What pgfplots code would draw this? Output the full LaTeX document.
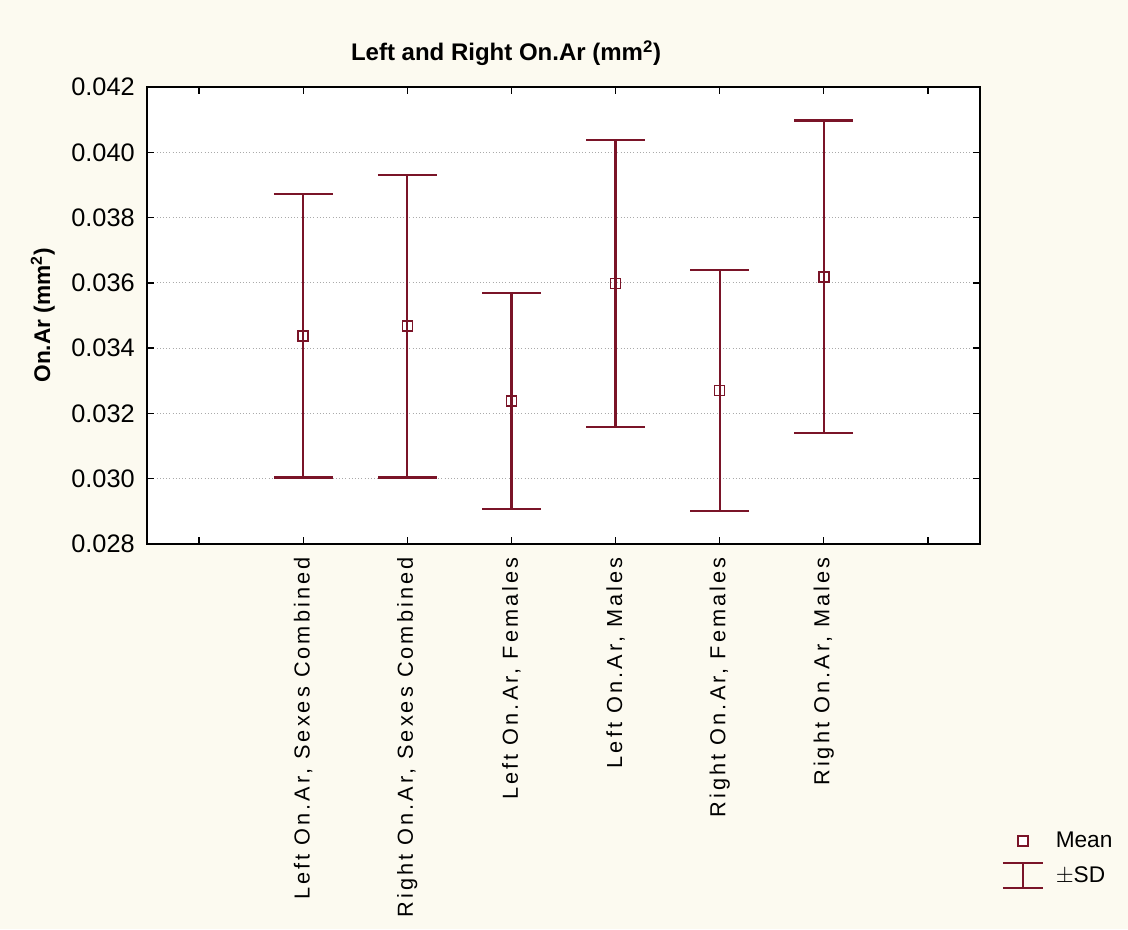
\documentclass[border=0pt]{standalone}
\usepackage{pgfplots}
\pgfplotsset{compat=1.18}
\usepackage{pgfplotstable}
\usepackage{fontspec}
\setmainfont{Liberation Sans}
\newfontfamily\lsp[LetterSpace=14]{Liberation Sans}
\definecolor{bg}{RGB}{252,250,240}
\definecolor{err}{RGB}{122,20,40}
\definecolor{grd}{RGB}{170,170,170}

\pgfplotstableread{
x y e
1 0.03438 0.00434
2 0.03467 0.00463
3 0.03238 0.00331
4 0.03598 0.00440
5 0.03270 0.00369
6 0.03618 0.00479
}\data

\begin{document}
\begin{tikzpicture}
\fill[bg] (-110.25pt,-288.75pt) rectangle (735.75pt,408pt);
\begin{axis}[
 at={(0pt,0pt)}, anchor=south west,
 scale only axis, width=624.75pt, height=342.75pt,
 xmin=-0.5, xmax=7.5, ymin=0.028, ymax=0.042,
 axis background/.style={fill=white},
 axis line style={line width=1pt, black},
 xtick={0,1,2,3,4,5,6,7},
 xticklabels={{}, {Left On.Ar, Sexes Combined}, {Right On.Ar, Sexes Combined}, {Left On.Ar, Females}, {Left On.Ar, Males}, {Right On.Ar, Females}, {Right On.Ar, Males}, {}},
 xticklabel style={rotate=90, anchor=east, inner sep=0pt, font=\lsp\fontsize{16.3}{18}\selectfont},
 xticklabel shift=10pt,
 ytick={0.028,0.030,0.032,0.034,0.036,0.038,0.040,0.042},
 yticklabel style={inner sep=0pt, font=\fontsize{19}{22}\selectfont, /pgf/number format/.cd, fixed, fixed zerofill, precision=3, assume math mode=true},
 yticklabel shift=9pt,
 scaled y ticks=false,
 tick style={black, line width=1pt},
 major tick length=5.5pt,
 tick align=inside,
 ymajorgrids, major grid style={grd, dotted, line width=0.8pt},
 title={Left and Right On.Ar (mm\textsuperscript{2})},
 title style={at={(axis description cs:0.431,1.04)}, anchor=base, font=\bfseries\fontsize{18}{20}\selectfont},
 ylabel={On.Ar (mm\textsuperscript{2})},
 ylabel style={at={(axis description cs:-0.125,0.5)}, anchor=center, font=\bfseries\fontsize{17}{20}\selectfont},
 legend style={at={(axis description cs:1.021,-0.618)}, anchor=north west, draw=none, fill=none, font=\fontsize{17}{19}\selectfont, row sep=7.5pt, column sep=7pt, cells={anchor=west}},
]
\addplot[err, only marks, mark=square, mark size=3.75pt, mark options={fill=white, line width=1.2pt, solid}, forget plot,
  error bars/.cd, y dir=both, y explicit, error mark=-,
  error bar style={line width=1.6pt, draw=err, color=err},
  error mark options={rotate=90, line width=1.7pt, mark size=22pt, draw=err, color=err}]
  table[x=x, y=y, y error=e]{\data};
\addlegendimage{legend image code/.code={\path[draw=none, fill=none] (0.3cm-15pt,0pt) rectangle (0.3cm+15pt,0pt); \draw[err, fill=white, line width=1.2pt] (0.3cm-3.75pt,-3.75pt) rectangle (0.3cm+3.75pt,3.75pt);}}
\addlegendentry{Mean}
\addlegendimage{legend image code/.code={\draw[err, line width=1.5pt] (0.3cm,-9.4pt)--(0.3cm,9.4pt) (0.3cm-15pt,-9.4pt)--(0.3cm+15pt,-9.4pt) (0.3cm-15pt,9.4pt)--(0.3cm+15pt,9.4pt);}}
\addlegendentry{$\pm$SD}
\end{axis}
\end{tikzpicture}
\end{document}
